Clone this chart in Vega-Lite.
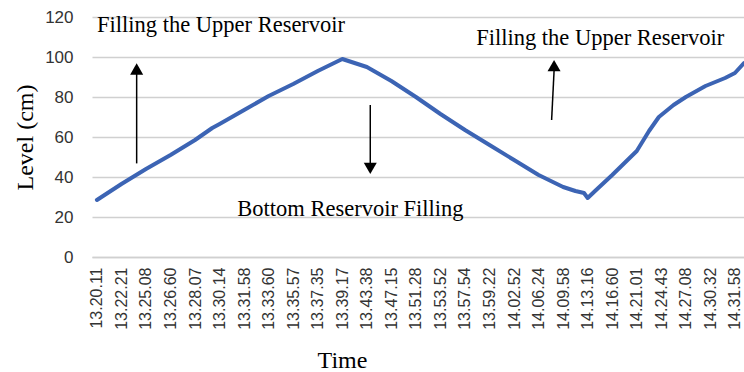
{
  "$schema": "https://vega.github.io/schema/vega-lite/v6.json",
  "width": 652,
  "height": 240,
  "autosize": {"type": "none"},
  "padding": {"left": 92, "top": 17, "right": 0, "bottom": 115},
  "background": "white",
  "config": {"view": {"stroke": null}, "axis": {"labelOverlap": false, "labelBound": false, "labelFlush": false}},
  "datasets": {
    "level": [
      {"i": 0, "time": "13.20.11", "level": 28.5},
      {"i": 1, "time": "13.22.21", "level": 36.5},
      {"i": 2, "time": "13.25.08", "level": 44},
      {"i": 3, "time": "13.26.60", "level": 51},
      {"i": 4, "time": "13.28.07", "level": 58.5},
      {"i": 4.7, "time": "", "level": 64.5},
      {"i": 5, "time": "13.30.14", "level": 66.5},
      {"i": 6, "time": "13.31.58", "level": 73.5},
      {"i": 7, "time": "13.33.60", "level": 80.5},
      {"i": 8, "time": "13.35.57", "level": 86.5},
      {"i": 9, "time": "13.37.35", "level": 93},
      {"i": 10, "time": "13.39.17", "level": 99},
      {"i": 11, "time": "13.43.38", "level": 95},
      {"i": 12, "time": "13.47.15", "level": 88},
      {"i": 13, "time": "13.51.28", "level": 80},
      {"i": 14, "time": "13.53.52", "level": 71.5},
      {"i": 15, "time": "13.57.54", "level": 63.5},
      {"i": 16, "time": "13.59.22", "level": 56},
      {"i": 17, "time": "14.02.52", "level": 48.5},
      {"i": 18, "time": "14.06.24", "level": 41},
      {"i": 19, "time": "14.09.58", "level": 35},
      {"i": 19.5, "time": "", "level": 33},
      {"i": 19.85, "time": "", "level": 32},
      {"i": 20, "time": "14.13.16", "level": 29.5},
      {"i": 20.3, "time": "", "level": 33},
      {"i": 21, "time": "14.16.60", "level": 41},
      {"i": 21.5, "time": "", "level": 47},
      {"i": 22, "time": "14.21.01", "level": 53},
      {"i": 22.5, "time": "", "level": 63},
      {"i": 22.9, "time": "", "level": 70},
      {"i": 23.5, "time": "", "level": 76},
      {"i": 24, "time": "14.24.43", "level": 80},
      {"i": 24.8, "time": "", "level": 85.5},
      {"i": 25, "time": "14.27.08", "level": 86.5},
      {"i": 25.6, "time": "", "level": 89.5},
      {"i": 26, "time": "14.30.32", "level": 92},
      {"i": 26.37, "time": "14.31.58", "level": 97}
    ],
    "arrows": [
      {"i": 1.62, "i2": 1.62, "from": 46.8, "to": 91.5, "head": 94, "dir": "up"},
      {"i": 11.14, "i2": 11.14, "from": 76, "to": 46.5, "head": 44.3, "dir": "down"},
      {"i": 18.53, "i2": 18.63, "from": 68.5, "to": 93, "head": 95.7, "dir": "up"}
    ],
    "notes": [
      {"label": "Filling the Upper Reservoir", "i": 5.06, "level": 112.5},
      {"label": "Filling the Upper Reservoir", "i": 20.51, "level": 106},
      {"label": "Bottom Reservoir Filling", "i": 10.33, "level": 20.5}
    ]
  },
  "layer": [
    {
      "data": {"name": "level"},
      "mark": {"type": "line", "color": "#3c64b4", "strokeWidth": 4, "strokeCap": "round", "strokeJoin": "round"},
      "encoding": {
        "x": {
          "field": "i", "type": "quantitative",
          "scale": {"domain": [-0.2, 26.37], "nice": false, "zero": false},
          "axis": {
            "title": "Time",
            "values": [0,1,2,3,4,5,6,7,8,9,10,11,12,13,14,15,16,17,18,19,20,21,22,23,24,25,26],
            "tickCount": 27,
            "labelExpr": "['13.20.11','13.22.21','13.25.08','13.26.60','13.28.07','13.30.14','13.31.58','13.33.60','13.35.57','13.37.35','13.39.17','13.43.38','13.47.15','13.51.28','13.53.52','13.57.54','13.59.22','14.02.52','14.06.24','14.09.58','14.13.16','14.16.60','14.21.01','14.24.43','14.27.08','14.30.32','14.31.58'][datum.value]",
            "labelAngle": 270,
            "labelAlign": "right",
            "labelBaseline": "middle",
            "labelFont": "Liberation Sans",
            "labelFontSize": 16,
            "labelColor": "#333333",
            "labelPadding": 10,
            "labelOverlap": false,
            "labelBound": false,
            "ticks": false,
            "tickSize": 0,
            "grid": false,
            "domain": true,
            "domainColor": "#d0d0d0",
            "domainWidth": 1.5,
            "titleFont": "Liberation Serif",
            "titleFontSize": 24,
            "titleFontWeight": "normal",
            "titleColor": "#000000",
            "titleX": 250,
            "titleY": 110,
            "titleAlign": "center",
            "titleBaseline": "alphabetic"
          }
        },
        "y": {
          "field": "level", "type": "quantitative",
          "scale": {"domain": [0, 120], "nice": false},
          "axis": {
            "title": "Level (cm)",
            "values": [0, 20, 40, 60, 80, 100, 120],
            "tickCount": 7,
            "labelFont": "Liberation Sans",
            "labelFontSize": 17,
            "labelColor": "#333333",
            "labelPadding": 19,
            "labelOverlap": false,
            "ticks": false,
            "tickSize": 0,
            "domain": false,
            "grid": true,
            "gridColor": "#d0d0d0",
            "gridWidth": 1.5,
            "titleFont": "Liberation Serif",
            "titleFontSize": 24,
            "titleFontWeight": "normal",
            "titleColor": "#000000",
            "titleAngle": 270,
            "titleX": -67,
            "titleY": 120,
            "titleAlign": "center",
            "titleBaseline": "middle"
          }
        }
      }
    },
    {
      "data": {"name": "arrows"},
      "mark": {"type": "rule", "color": "#000000", "strokeWidth": 1.5},
      "encoding": {
        "x": {"field": "i", "type": "quantitative"},
        "x2": {"field": "i2"},
        "y": {"field": "from", "type": "quantitative"},
        "y2": {"field": "to"}
      }
    },
    {
      "data": {"name": "arrows"},
      "transform": [{"filter": "datum.dir === 'up'"}],
      "mark": {"type": "point", "shape": "triangle-up", "filled": true, "color": "#000000", "opacity": 1, "size": 170},
      "encoding": {
        "x": {"field": "i2", "type": "quantitative"},
        "y": {"field": "head", "type": "quantitative"}
      }
    },
    {
      "data": {"name": "arrows"},
      "transform": [{"filter": "datum.dir === 'down'"}],
      "mark": {"type": "point", "shape": "triangle-down", "filled": true, "color": "#000000", "opacity": 1, "size": 170},
      "encoding": {
        "x": {"field": "i2", "type": "quantitative"},
        "y": {"field": "head", "type": "quantitative"}
      }
    },
    {
      "data": {"name": "notes"},
      "mark": {"type": "text", "font": "Liberation Serif", "fontSize": 22.5, "color": "#000000", "align": "center", "baseline": "alphabetic"},
      "encoding": {
        "x": {"field": "i", "type": "quantitative"},
        "y": {"field": "level", "type": "quantitative"},
        "text": {"field": "label", "type": "nominal"}
      }
    }
  ]
}
